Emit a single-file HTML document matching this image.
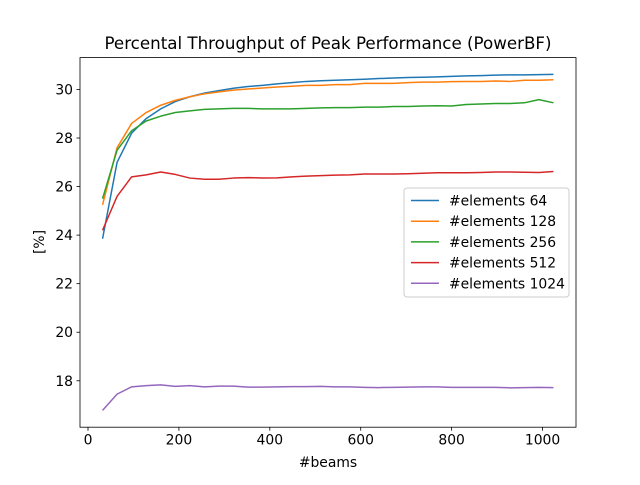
<!DOCTYPE html>
<html><head><meta charset="utf-8"><style>
body{margin:0;background:#fff}
svg{font-family:"DejaVu Sans","Liberation Sans",sans-serif}
</style></head><body>
<svg id="chart" width="640" height="480" viewBox="0 0 640 480">
<rect x="0" y="0" width="640" height="480" fill="#fff"/>
<text x="328" y="49" font-size="16.7" text-anchor="middle">Percental Throughput of Peak Performance (PowerBF)</text>
<g id="plot"></g>
<text x="328" y="467" font-size="13.9" text-anchor="middle">#beams</text>
<text transform="translate(44,242) rotate(-90)" font-size="13.9" text-anchor="middle">[%]</text>
</svg>
<script>
const xs = [32,64,96,128,160,192,224,256,288,320,352,384,416,448,480,512,544,576,608,640,672,704,736,768,800,832,864,896,928,960,992,1024];
const s64 = [23.85,27.0,28.2,28.8,29.2,29.5,29.7,29.85,29.95,30.05,30.12,30.17,30.23,30.28,30.33,30.36,30.38,30.4,30.42,30.45,30.47,30.49,30.5,30.52,30.54,30.56,30.57,30.59,30.6,30.6,30.61,30.62];
const s128 = [25.25,27.6,28.6,29.05,29.35,29.55,29.7,29.82,29.9,29.97,30.02,30.06,30.1,30.13,30.17,30.17,30.2,30.2,30.25,30.25,30.25,30.28,30.3,30.3,30.32,30.33,30.33,30.35,30.33,30.38,30.38,30.4];
const s256 = [25.5,27.5,28.3,28.7,28.9,29.05,29.12,29.18,29.2,29.22,29.22,29.2,29.2,29.2,29.22,29.24,29.25,29.25,29.27,29.27,29.3,29.3,29.32,29.33,29.32,29.38,29.4,29.42,29.42,29.45,29.58,29.45];
const s512 = [24.2,25.6,26.4,26.48,26.6,26.5,26.35,26.3,26.3,26.35,26.37,26.35,26.36,26.4,26.43,26.45,26.47,26.48,26.52,26.52,26.52,26.53,26.55,26.57,26.57,26.57,26.58,26.6,26.6,26.59,26.58,26.62];
const s1024 = [16.78,17.45,17.75,17.8,17.83,17.77,17.8,17.75,17.78,17.78,17.74,17.74,17.75,17.76,17.76,17.77,17.75,17.75,17.73,17.72,17.73,17.74,17.75,17.75,17.73,17.73,17.73,17.73,17.71,17.72,17.73,17.72];
const seriesLabels = ["#elements 64","#elements 128","#elements 256","#elements 512","#elements 1024"];
const xTicks = [0,200,400,600,800,1000];
const yTicks = [18,20,22,24,26,28,30];

const NS="http://www.w3.org/2000/svg";
const L=80,R=576,T=57.6,B=427.2;
const allY=[].concat(s64,s128,s256,s512,s1024);
const xmin0=Math.min(...xs),xmax0=Math.max(...xs),ymin0=Math.min(...allY),ymax0=Math.max(...allY);
const xm=(xmax0-xmin0)*0.05, ym=(ymax0-ymin0)*0.05;
const xlo=xmin0-xm,xhi=xmax0+xm,ylo=ymin0-ym,yhi=ymax0+ym;
const sx=v=>L+(v-xlo)/(xhi-xlo)*(R-L);
const sy=v=>B-(v-ylo)/(yhi-ylo)*(B-T);
const g=document.getElementById('plot');
function mk(tag,attrs,parent){const e=document.createElementNS(NS,tag);for(const k in attrs)e.setAttribute(k,attrs[k]);(parent||g).appendChild(e);return e;}
const colors=["#1f77b4","#ff7f0e","#2ca02c","#d62728","#9467bd"];
const series=[s64,s128,s256,s512,s1024];
series.forEach((s,i)=>{
  const p=mk('polyline',{points:s.map((v,j)=>sx(xs[j]).toFixed(2)+','+sy(v).toFixed(2)).join(' '),fill:'none',stroke:colors[i],'stroke-width':1.5,'stroke-linejoin':'round'});
  
  
});
xTicks.forEach(t=>{
  const x=sx(t);
  mk('line',{x1:x,x2:x,y1:B,y2:B+3.5,stroke:'#000','stroke-width':0.8});
  const tx=mk('text',{x:x,y:B+17.5,'font-size':13.9,'text-anchor':'middle'});
  tx.textContent=t;
  
  
});
yTicks.forEach(t=>{
  const y=sy(t);
  mk('line',{x1:L-3.5,x2:L,y1:y,y2:y,stroke:'#000','stroke-width':0.8});
  const tx=mk('text',{x:L-7,y:y+5,'font-size':13.9,'text-anchor':'end'});
  tx.textContent=t;
  
  
});
const frame=mk('rect',{x:L,y:T,width:R-L,height:B-T,fill:'none',stroke:'#000','stroke-width':0.8});


const lg=mk('g',{});


mk('rect',{x:404,y:188,width:165,height:109,rx:3,fill:'#fff','fill-opacity':0.8,stroke:'#ccc','stroke-width':1},lg);
seriesLabels.forEach((lab,i)=>{
  const y=200.5+i*20.7;
  const e=mk('g',{},lg);
  
  
  mk('line',{x1:411,x2:439,y1:y,y2:y,stroke:colors[i],'stroke-width':1.5},e);
  const t=mk('text',{x:449,y:y+5,'font-size':13.9},e);
  t.textContent=lab;
});
</script>
</body></html>
